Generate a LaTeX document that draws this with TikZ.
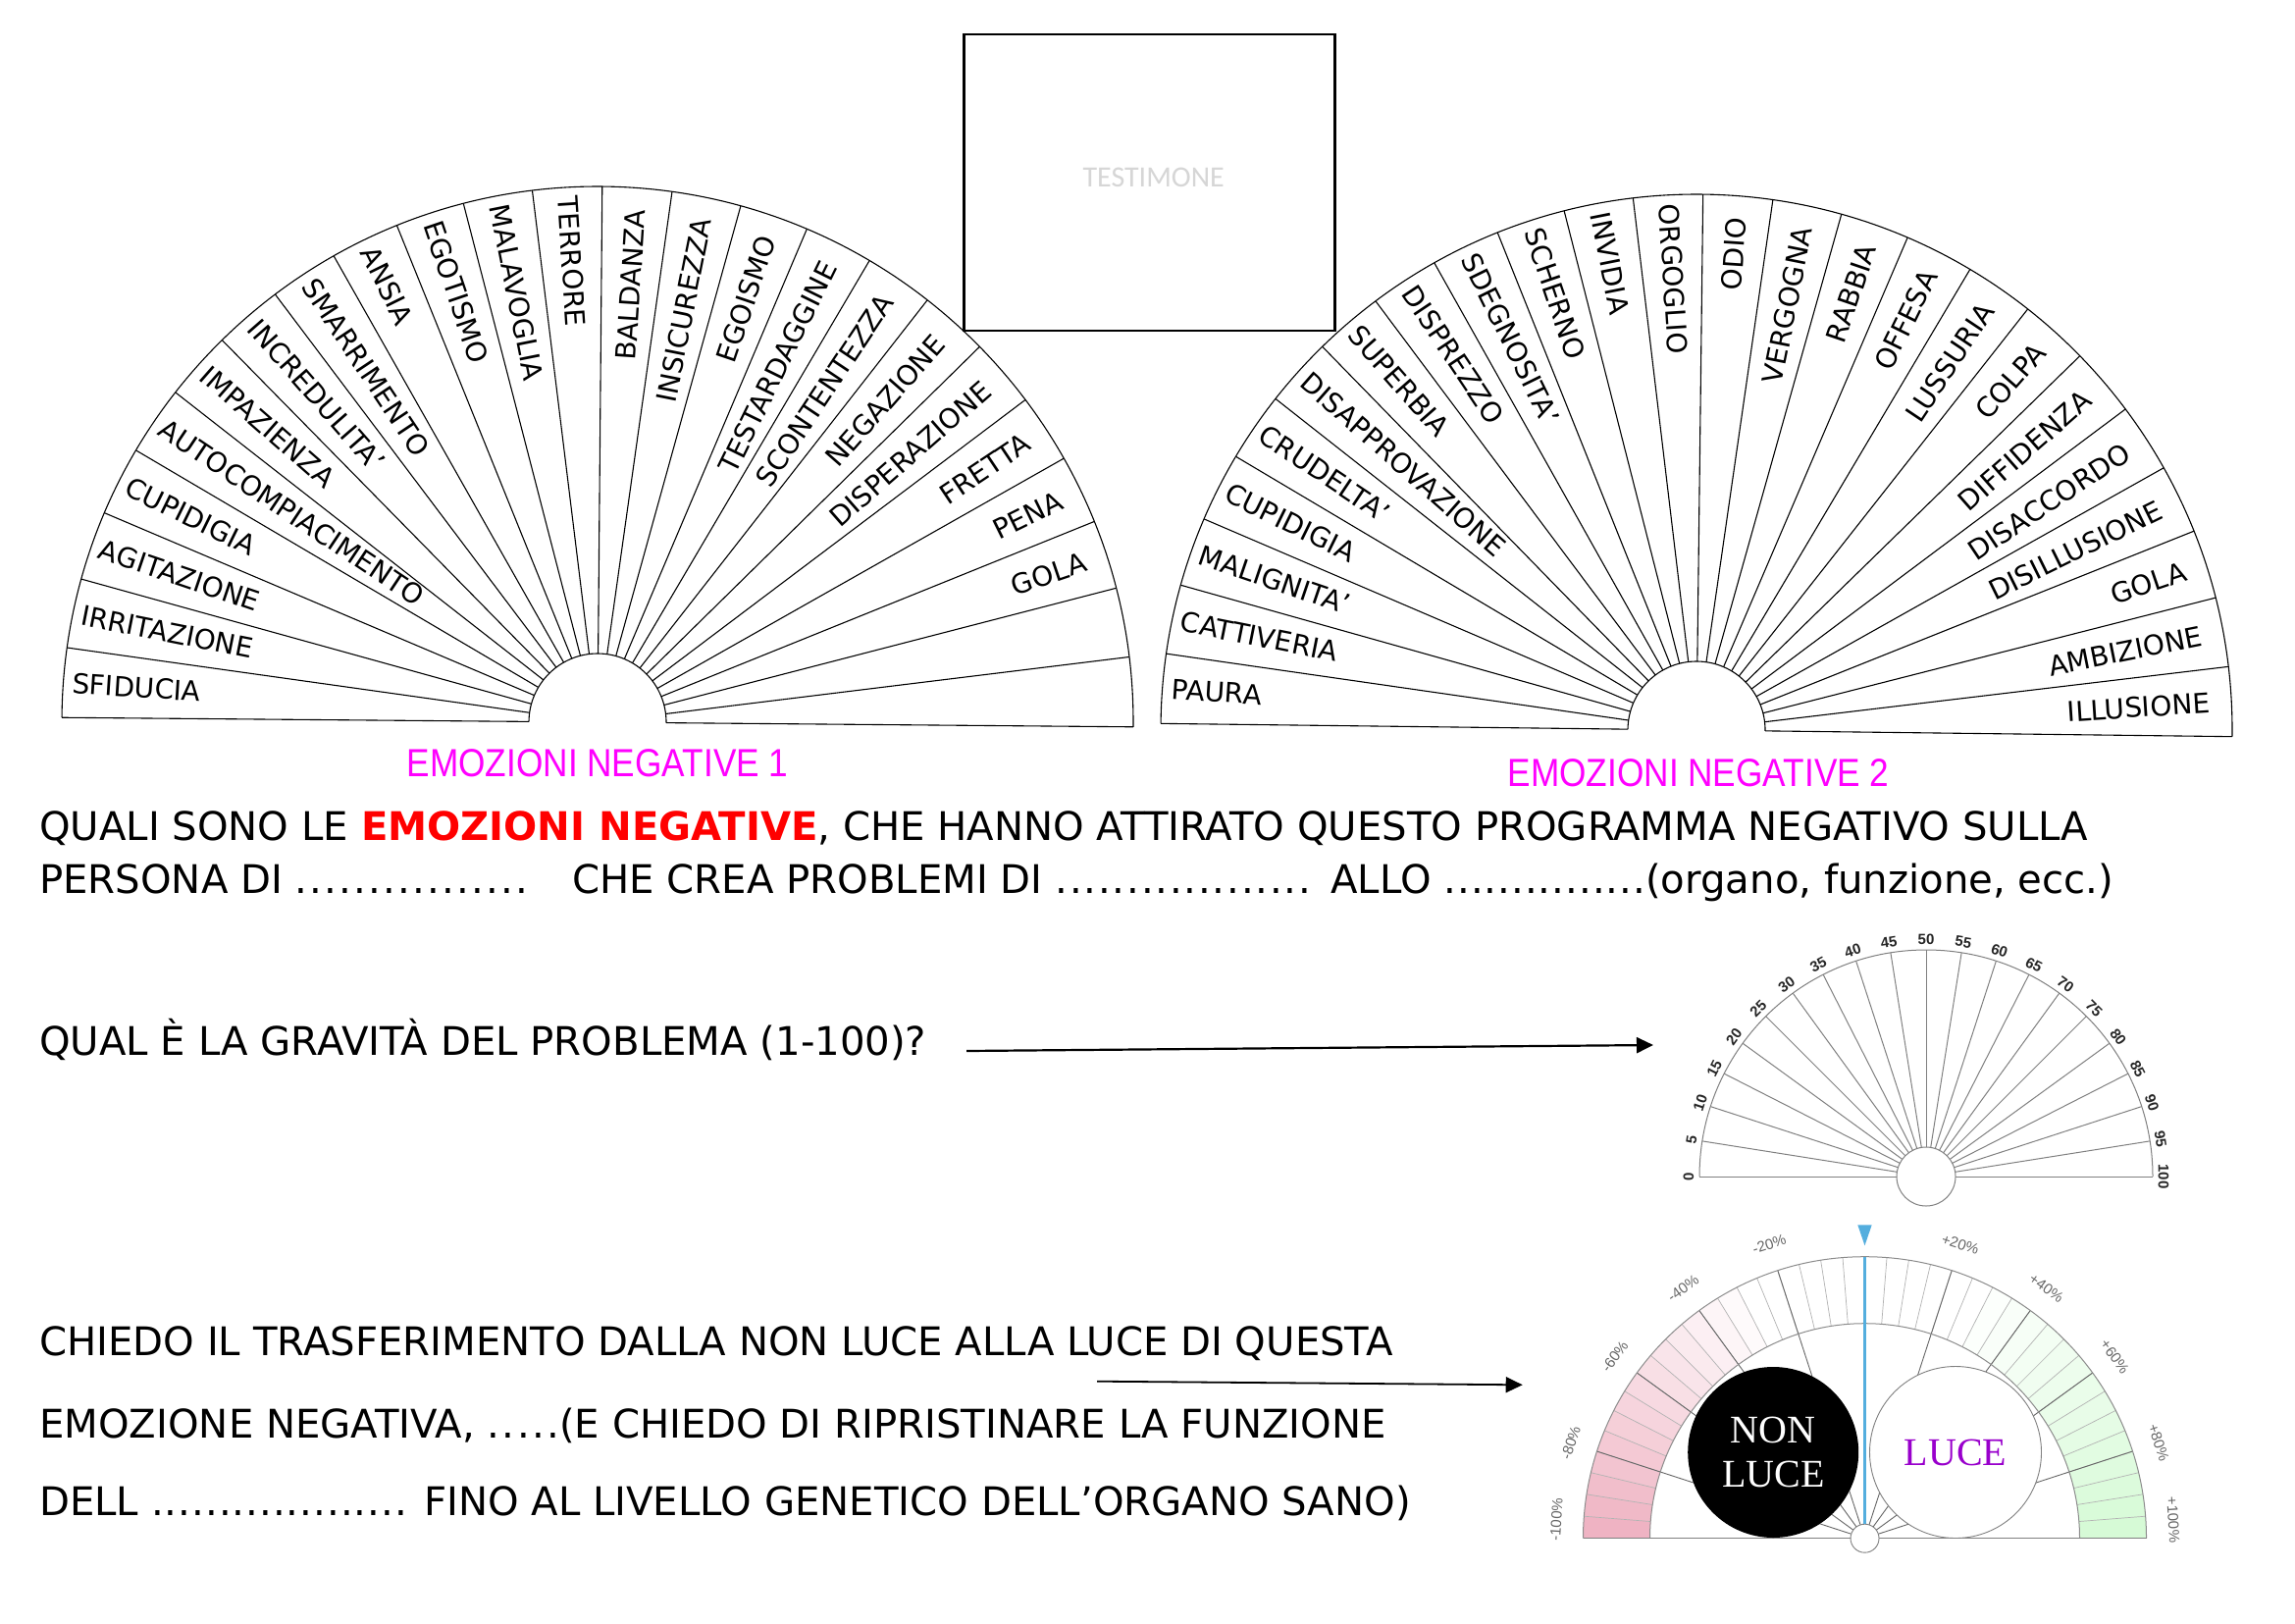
\documentclass[tikz,border=0pt]{standalone}
\usepackage{fontspec}
\setmainfont{DejaVu Sans}
\newfontfamily\arialf{Liberation Sans}
\newfontfamily\timesf{Liberation Serif}
\newfontfamily\calf{Carlito}
\usetikzlibrary{arrows.meta,calc}
\definecolor{mag}{RGB}{255,0,255}
\definecolor{needlec}{RGB}{84,174,222}
\definecolor{pinkc}{RGB}{238,176,192}
\definecolor{greenc}{RGB}{212,250,212}
\definecolor{lucep}{RGB}{153,0,204}
\newcommand\spc[2]{{\addfontfeature{LetterSpace=#1}#2}}
\newcommand\emfan[5]{%
\begin{scope}[shift={(#1,#2)},rotate=#3]
\foreach \k in {0,...,24}{%
  \pgfmathsetmacro\ra{180-7.5*\k}%
  \draw[fanline] (\ra:70) -- (\ra:546);}
\draw[fanline] (546,0) arc[start angle=0,end angle=180,radius=546];
\draw[fanline] (70,0) arc[start angle=0,end angle=180,radius=70];
\foreach \t [count=\i from 0] in {#4}{%
  \pgfmathsetmacro\a{180-7.5*(\i+0.5)}%
  \ifdim\a pt>90pt
    \node[fantext,anchor=west,rotate=\a-180] (#5\i) at (\a:537) {\t};
  \else
    \node[fantext,anchor=east,rotate=\a] (#5\i) at (\a:524) {\t};
  \fi}
\end{scope}}
\begin{document}
\begin{tikzpicture}[x=1pt,y=1pt,
  maintext/.style={font=\fontsize{40.2}{48}\selectfont, inner sep=0, anchor=base west},
  fantext/.style={font=\fontsize{28}{32}\selectfont, inner sep=0},
  fanline/.style={line width=1.1pt, black},
  conn/.style={line width=2.2pt, -{Triangle[length=17pt,width=16pt]}},
  protline/.style={line width=1pt, black!50},
  plabel/.style={font=\arialf\bfseries\fontsize{15}{16}\selectfont, inner sep=0, text=black!85},
  glabel/.style={font=\arialf\fontsize{15}{16}\selectfont, inner sep=0, text=black!60},
  emlabel/.style={font=\arialf\fontsize{40}{44}\selectfont, text=mag, inner sep=0, xscale=0.88}]
\fill[white] (0,0) rectangle (2339,-1654);
\useasboundingbox (0,0) rectangle (2339,-1654);

% TESTIMONE box
\node[draw, line width=2.5pt, minimum width=378, minimum height=302, inner sep=0] (testbox) at (1171.7,-186) {};
\node[font=\calf\fontsize{30}{34}\selectfont, text=black!16, inner sep=0] (testimone) at (1175.7,-180.7) {TESTIMONE};

% fans
\emfan{609}{-736}{-0.5}{SFIDUCIA, IRRITAZIONE, AGITAZIONE, CUPIDIGIA, AUTOCOMPIACIMENTO, IMPAZIENZA, INCREDULITA’, SMARRIMENTO, ANSIA, EGOTISMO, MALAVOGLIA, TERRORE, BALDANZA, INSICUREZZA, EGOISMO, TESTARDAGGINE, SCONTENTEZZA, NEGAZIONE, DISPERAZIONE, FRETTA, PENA, GOLA}{fa}
\emfan{1729}{-744}{-0.7}{PAURA, CATTIVERIA, MALIGNITA’, CUPIDIGIA, CRUDELTA’, DISAPPROVAZIONE, SUPERBIA, DISPREZZO, SDEGNOSITA’, SCHERNO, INVIDIA, ORGOGLIO, ODIO, VERGOGNA, RABBIA, OFFESA, LUSSURIA, COLPA, DIFFIDENZA, DISACCORDO, DISILLUSIONE, GOLA, AMBIZIONE, ILLUSIONE}{fb}

\node[emlabel] (em1) at (609,-778) {EMOZIONI NEGATIVE 1};
\node[emlabel] (em2) at (1731,-788) {EMOZIONI NEGATIVE 2};

% main text
\node[maintext] (q1) at (40,-856) {QUALI SONO LE {\bfseries\color{red}EMOZIONI NEGATIVE}, CHE HANNO ATTIRATO QUESTO PROGRAMMA NEGATIVO SULLA};
\node[maintext] (q2a) at (40,-910.7) {PERSONA DI \spc{5.5}{................}};
\node[maintext] (q2b) at (583,-910.7) {CHE CREA PROBLEMI DI \spc{4.5}{..................}};
\node[maintext] (q2c) at (1356,-910.7) {ALLO \spc{2.5}{...............}(organo, funzione, ecc.)};
\node[maintext] (q3) at (40,-1075.3) {QUAL È LA GRAVITÀ DEL PROBLEMA (1-100)?};
\node[maintext] (q4) at (40,-1381.7) {CHIEDO IL TRASFERIMENTO DALLA NON LUCE ALLA LUCE DI QUESTA};
\node[maintext] (q5) at (40,-1465) {EMOZIONE NEGATIVA, \spc{6}{.....}(E CHIEDO DI RIPRISTINARE LA FUNZIONE};
\node[maintext] (q6) at (40,-1544) {DELL \spc{2.5}{...................} FINO AL LIVELLO GENETICO DELL’ORGANO SANO)};

% protractor 0-100
\begin{scope}[shift={(1963,-1199)}]
\foreach \v in {5,10,...,95}{%
  \pgfmathsetmacro\a{180-1.8*\v}%
  \draw[protline] (\a:30) -- (\a:231);}
\draw[protline] (231,0) arc[start angle=0,end angle=180,radius=231];
\draw[protline] (-231,0) -- (-30,0);
\draw[protline] (30,0) -- (231,0);
\node[circle, draw=black!50, line width=1pt, fill=white, minimum size=60, inner sep=0] (phub) at (0,0) {};
\foreach \v in {0,5,...,100}{%
  \pgfmathsetmacro\a{180-1.8*\v}%
  \node[plabel, rotate=\a-90] (p\v) at (\a:242) {\v};}
\end{scope}

% gauge
\begin{scope}[shift={(1900.5,-1567.7)}]
\foreach \k in {0,...,39}{%
  \pgfmathsetmacro\sa{180-4.5*\k}%
  \pgfmathsetmacro\ea{\sa-4.5}%
  \pgfmathsetmacro\m{\sa-2.25}%
  \pgfmathtruncatemacro\tl{max(0,min(1,(\m-115)/65))*100}%
  \pgfmathtruncatemacro\tr{max(0,min(1,(65-\m)/65))*100}%
  \ifdim\m pt>90pt
    \fill[pinkc!\tl!white] (\sa:219) arc[start angle=\sa,end angle=\ea,radius=219] -- (\ea:287) arc[start angle=\ea,end angle=\sa,radius=287] -- cycle;
  \else
    \fill[greenc!\tr!white] (\sa:219) arc[start angle=\sa,end angle=\ea,radius=219] -- (\ea:287) arc[start angle=\ea,end angle=\sa,radius=287] -- cycle;
  \fi}
\foreach \k in {1,...,39}{%
  \pgfmathsetmacro\a{180-4.5*\k}%
  \draw[black!30, line width=0.7pt] (\a:219) -- (\a:287);}
\foreach \k in {1,2,3,4,6,7,8,9}{%
  \pgfmathsetmacro\a{180-18*\k}%
  \draw[black!60, line width=0.9pt] (\a:14.5) -- (\a:287);}
\draw[black!45, line width=1pt] (287,0) arc[start angle=0,end angle=180,radius=287];
\draw[black!45, line width=1pt] (219,0) arc[start angle=0,end angle=180,radius=219];
\draw[black!50, line width=1.2pt] (-287,0) -- (287,0);
\node[circle, fill=black, minimum size=174, inner sep=0, align=center,
  font=\timesf\fontsize{40}{45}\selectfont, text=white] (nonluce) at (-93.3,87.7) {NON\\LUCE};
\node[circle, draw=black!50, line width=0.9pt, fill=white, minimum size=175, inner sep=0,
  font=\timesf\fontsize{40}{45}\selectfont, text=lucep] (luce) at (92.5,87.7) {LUCE};
\node[circle, draw=black!50, line width=0.9pt, fill=white, minimum size=29, inner sep=0] (ghub) at (0,0) {};
\coordinate (ntop) at (90:287);
\draw[needlec, line width=2.6pt] (ntop) -- (ghub);
\fill[needlec] (-7.2,319.4) -- (7.2,319.4) -- (0,298.4) -- cycle;
\foreach \a/\t/\n in {108/-20\%/m20, 126/-40\%/m40, 144/-60\%/m60, 162/-80\%/m80, 176.5/-100\%/m100,
  72/+20\%/p20, 54/+40\%/p40, 36/+60\%/p60, 18/+80\%/p80, 3.5/+100\%/p100}{%
  \node[glabel, rotate=\a-90] (g\n) at (\a:315) {\t};}
\end{scope}

% connectors
\coordinate (a1s) at (985,-1071);
\coordinate (a1e) at (1685,-1065);
\draw[conn] (a1s) -- (a1e);
\coordinate (a2s) at (1118,-1407.7);
\coordinate (a2e) at (1551.7,-1411.3);
\draw[conn, line width=1.8pt] (a2s) -- (a2e);
\end{tikzpicture}
\end{document}
